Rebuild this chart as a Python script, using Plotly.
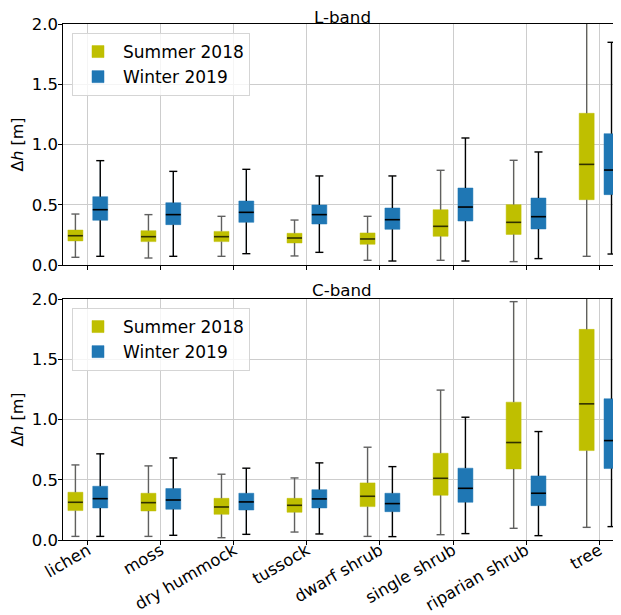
import plotly.graph_objects as go
from plotly.subplots import make_subplots

categories = ["lichen", "moss", "dry hummock", "tussock", "dwarf shrub",
              "single shrub", "riparian shrub", "tree"]
series_names = ["Summer 2018", "Winter 2019"]

# L-band statistics (lower whisker, q1, median, q3, upper whisker)
L_summer_low = [0.064, 0.058, 0.072, 0.075, 0.039, 0.039, 0.028, 0.072]
L_summer_q1 = [0.200, 0.194, 0.194, 0.183, 0.172, 0.238, 0.254, 0.542]
L_summer_med = [0.243, 0.235, 0.235, 0.224, 0.216, 0.321, 0.354, 0.835]
L_summer_q3 = [0.290, 0.285, 0.279, 0.263, 0.266, 0.459, 0.501, 1.259]
L_summer_high = [0.423, 0.418, 0.404, 0.373, 0.404, 0.786, 0.869, 2.30]

L_winter_low = [0.072, 0.072, 0.094, 0.105, 0.033, 0.033, 0.053, 0.091]
L_winter_q1 = [0.371, 0.335, 0.354, 0.340, 0.296, 0.365, 0.299, 0.584]
L_winter_med = [0.459, 0.418, 0.437, 0.418, 0.376, 0.481, 0.401, 0.788]
L_winter_q3 = [0.567, 0.517, 0.531, 0.498, 0.473, 0.639, 0.556, 1.090]
L_winter_high = [0.866, 0.777, 0.794, 0.739, 0.739, 1.054, 0.938, 1.848]

# C-band statistics
C_summer_low = [0.030, 0.030, 0.019, 0.066, 0.030, 0.044, 0.097, 0.105]
C_summer_q1 = [0.244, 0.241, 0.213, 0.230, 0.277, 0.371, 0.590, 0.742]
C_summer_med = [0.313, 0.310, 0.274, 0.288, 0.363, 0.512, 0.809, 1.130]
C_summer_q3 = [0.396, 0.388, 0.346, 0.346, 0.474, 0.720, 1.144, 1.748]
C_summer_high = [0.623, 0.615, 0.546, 0.515, 0.770, 1.244, 1.978, 2.30]

C_winter_low = [0.030, 0.039, 0.047, 0.050, 0.028, 0.053, 0.036, 0.111]
C_winter_q1 = [0.266, 0.255, 0.249, 0.266, 0.235, 0.313, 0.285, 0.593]
C_winter_med = [0.343, 0.332, 0.316, 0.341, 0.302, 0.429, 0.388, 0.825]
C_winter_q3 = [0.446, 0.427, 0.388, 0.418, 0.388, 0.596, 0.532, 1.172]
C_winter_high = [0.715, 0.681, 0.596, 0.640, 0.609, 1.019, 0.900, 2.30]

band_titles = ["L-band", "C-band"]
fill_colors = ["#bfbf00", "#1f77b4"]
whisker_colors = ["#606060", "#000000"]
median_colors = ["rgba(0,0,0,0.75)", "#000000"]
OFFSET = 0.17
BOX_W = 0.205
CAP_W = 0.11

panels = [
    [(L_summer_low, L_summer_q1, L_summer_med, L_summer_q3, L_summer_high),
     (L_winter_low, L_winter_q1, L_winter_med, L_winter_q3, L_winter_high)],
    [(C_summer_low, C_summer_q1, C_summer_med, C_summer_q3, C_summer_high),
     (C_winter_low, C_winter_q1, C_winter_med, C_winter_q3, C_winter_high)],
]

fig = make_subplots(rows=2, cols=1, shared_xaxes=False)
FONT = "DejaVu Sans"

for p, panel in enumerate(panels):
    row = p + 1
    legend_id = "legend" if p == 0 else "legend2"
    for s, (low, q1, med, q3, high) in enumerate(panel):
        sign = -1 if s == 0 else 1
        xs = [i + sign * OFFSET for i in range(len(categories))]
        fig.add_trace(go.Box(
            x=xs, q1=q1, median=med, q3=q3, lowerfence=low, upperfence=high,
            width=BOX_W, fillcolor=fill_colors[s],
            line=dict(color=fill_colors[s], width=0.5), whiskerwidth=0,
            name=series_names[s], legend=legend_id, hoverinfo="skip",
            boxpoints=False,
        ), row=row, col=1)
        lx, ly = [], []
        for x, a, b, c, d in zip(xs, low, q1, q3, high):
            lx += [x, x, None, x, x, None,
                   x - CAP_W / 2, x + CAP_W / 2, None,
                   x - CAP_W / 2, x + CAP_W / 2, None]
            ly += [c, d, None, a, b, None, d, d, None, a, a, None]
        fig.add_trace(go.Scatter(
            x=lx, y=ly, mode="lines", line=dict(color=whisker_colors[s], width=1.4),
            showlegend=False, hoverinfo="skip"), row=row, col=1)
        mx, my = [], []
        for x, m in zip(xs, med):
            mx += [x - BOX_W / 2, x + BOX_W / 2, None]
            my += [m, m, None]
        fig.add_trace(go.Scatter(
            x=mx, y=my, mode="lines", line=dict(color=median_colors[s], width=1.6),
            showlegend=False, hoverinfo="skip"), row=row, col=1)

top_dom = [(540 - 265) / 516, 1.0]
bot_dom = [0.0, (540 - 299) / 516]

axis_common = dict(showline=True, linecolor="black", linewidth=1.2,
                   gridcolor="#cdcdcd", gridwidth=1.2, zeroline=False,
                   ticks="outside", ticklen=3.5, tickcolor="black",
                   automargin=False,
                   tickfont=dict(family=FONT, size=16.5, color="black"))

for r, dom in [(1, top_dom), (2, bot_dom)]:
    fig.update_xaxes(range=[-0.34, 7.30], tickvals=list(range(len(categories))),
                     ticktext=categories, tickangle=-30, mirror=True,
                     ticklabelstandoff=-10,
                     showticklabels=(r == 2), row=r, col=1, **axis_common)
    fig.update_yaxes(range=[0, 2.0], domain=dom, tickvals=[0, 0.5, 1.0, 1.5, 2.0],
                     tickformat=".1f", row=r, col=1, ticklabelstandoff=-3,
                     title=dict(text="Δ<i>h</i> [m]", font=dict(family=FONT, size=16, color="black"),
                                standoff=4),
                     **axis_common)

title_shifts = [-5, -3]
for r, title in enumerate(band_titles):
    yref = "y domain" if r == 0 else "y2 domain"
    fig.add_annotation(text=title, x=0.5, y=1.0, xref="paper", yref=yref,
                       xanchor="center", yanchor="bottom", yshift=title_shifts[r],
                       showarrow=False,
                       font=dict(family=FONT, size=16.7, color="black"))

legend_common = dict(x=9 / 558, xanchor="left", yanchor="top",
                     bgcolor="rgba(255,255,255,0.8)", bordercolor="#d5d5d5",
                     borderwidth=1, font=dict(family=FONT, size=17, color="black"),
                     tracegroupgap=2, itemwidth=40)
# the page body adds an 8px offset, so the figure is 8px smaller with margins shifted
fig.update_layout(
    width=613, height=607,
    margin=dict(l=55, r=0, t=16, b=75, autoexpand=False),
    plot_bgcolor="white", paper_bgcolor="white",
    boxmode="overlay",
    showlegend=True,
    legend=dict(y=1.0 - 9 / 516, yref="paper", **legend_common),
    legend2=dict(y=bot_dom[1] - 9 / 516, yref="paper", **legend_common),
)

fig.write_html("out.html")
